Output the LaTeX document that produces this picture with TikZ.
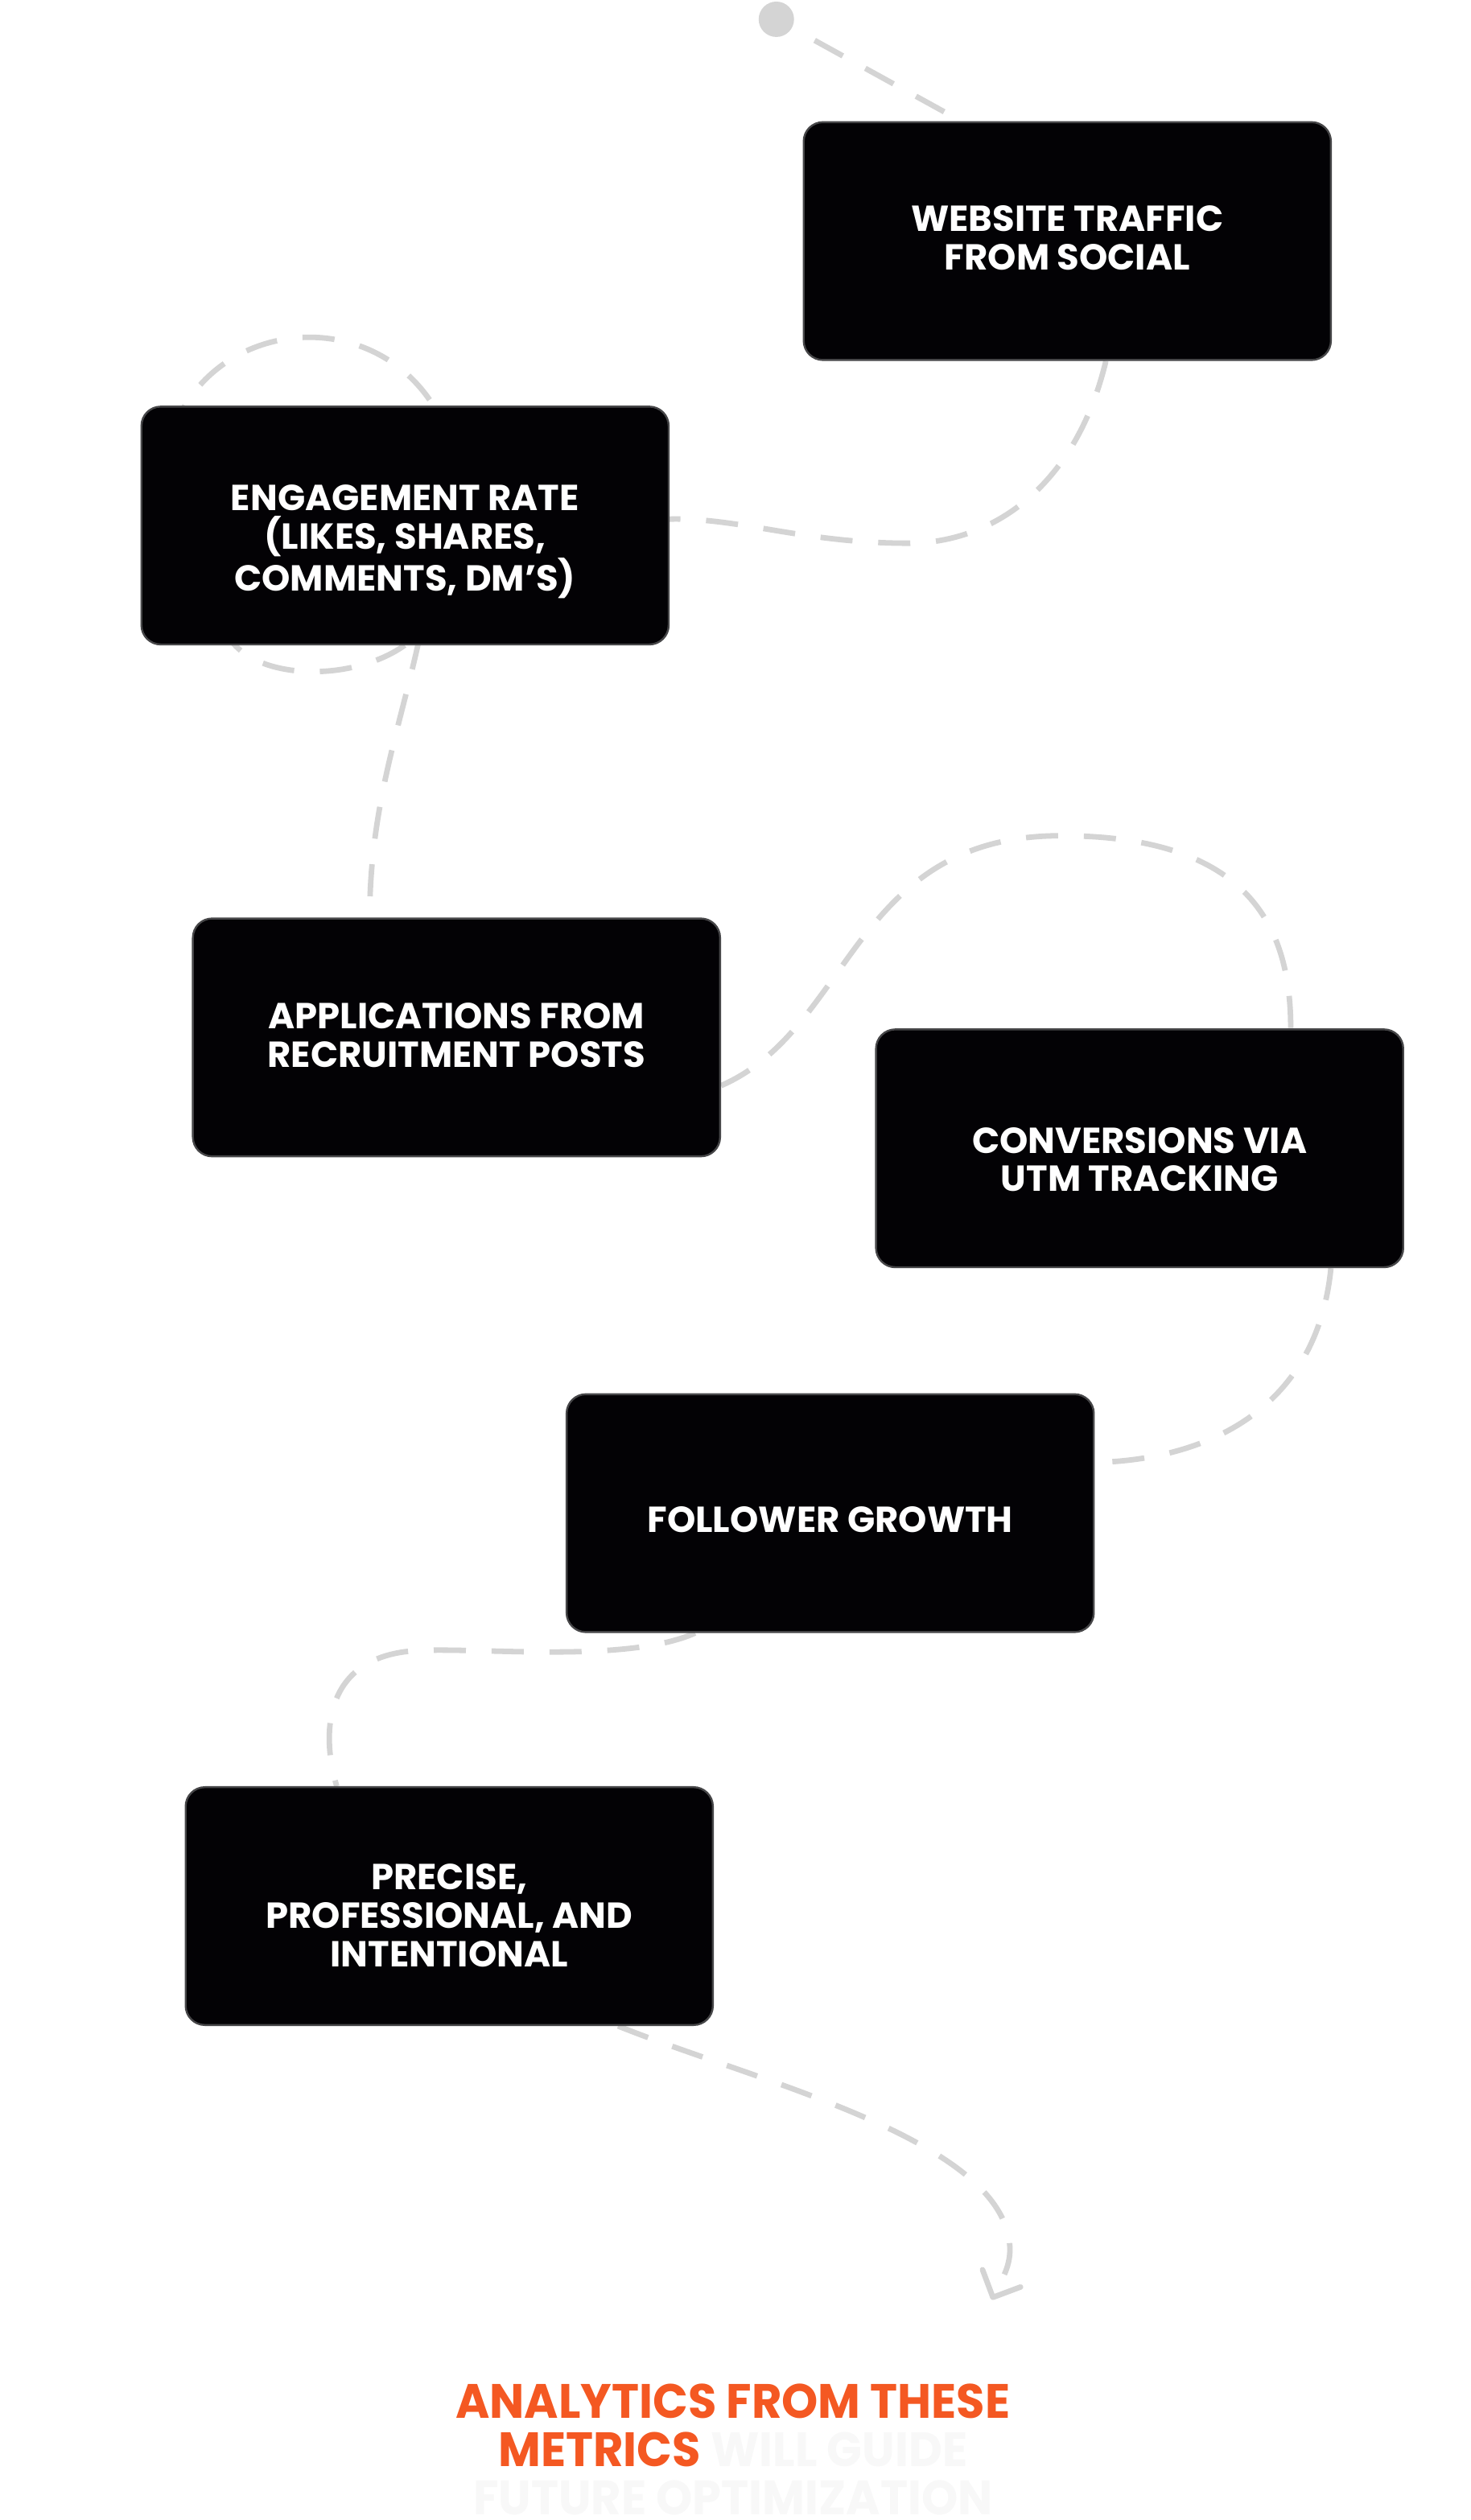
\documentclass[tikz,border=0pt]{standalone}
\usepackage{fontspec}
\setmainfont{Poppins}
\newfontfamily\cardfont{Poppins}
\newfontfamily\headfont[FakeStretch=0.96]{Poppins}
\usetikzlibrary{arrows.meta,backgrounds}

\begin{document}
\begin{tikzpicture}[x=1pt,y=-1pt,
  card/.style={draw=cardEdge,line width=1.2pt,fill=cardFill,rounded corners=12pt,
    minimum width=328pt,minimum height=148pt,inner sep=0pt},
  cardtext/.style={inner sep=0pt,align=center,text=white,
    font=\cardfont\bfseries\fontsize{22.5}{24}\selectfont},
  track/.style={draw=trackColor,line width=3.4pt,dash pattern=on 20pt off 16pt}]
\definecolor{cardFill}{RGB}{3,2,5}
\definecolor{cardEdge}{RGB}{70,70,72}
\definecolor{trackColor}{RGB}{212,212,212}
\definecolor{headColor}{RGB}{244,88,34}
\definecolor{ghostColor}{RGB}{248,248,248}

\node[card] (web) at (664,150) {};
\node[card] (engage) at (252,327) {};
\node[card] (apps) at (284,645.5) {};
\node[card] (conv) at (709,714.5) {};
\node[card] (follow) at (516.5,941.5) {};
\node[card] (precise) at (279.5,1186) {};

\node[cardtext] (webText) at ([yshift=2pt]web.center) {WEBSITE TRAFFIC\\FROM SOCIAL};
\node[cardtext] (engageText) at ([yshift=-10pt]engage.center) {ENGAGEMENT RATE\\(LIKES, SHARES,\\COMMENTS, DM’S)};
\node[cardtext] (appsText) at ([yshift=1.5pt]apps.center) {APPLICATIONS FROM\\RECRUITMENT POSTS};
\node[cardtext] (convText) at ([yshift=-7pt]conv.center) {CONVERSIONS VIA\\UTM TRACKING};
\node[cardtext] (followText) at ([yshift=-4pt]follow.center) {FOLLOWER GROWTH};
\node[cardtext] (preciseText) at ([yshift=-6pt]precise.center) {PRECISE,\\PROFESSIONAL, AND\\INTENTIONAL};

\node[circle,fill=trackColor,minimum size=22pt,inner sep=0pt] (start) at (483,12) {};
\coordinate (tip) at (617,1431);

\node[anchor=north,inner sep=0pt,align=center,text=headColor,
  font=\headfont\bfseries\fontsize{30}{30}\selectfont] (head) at (456,1483)
  {ANALYTICS FROM THESE\\METRICS {\color{ghostColor}WILL GUIDE}\\{\color{ghostColor}FUTURE OPTIMIZATION}};

\begin{pgfonlayer}{background}
\path[fill=white] (0,0) rectangle (915,1568);

\draw[track,dash phase=20pt] (start) -- ([xshift=-66pt]web.north);

\draw[track] ([xshift=24pt]web.south) .. controls (670,300) and (620,338) .. (565,338)
  .. controls (500,338) and (460,322) .. ([yshift=4pt]engage.east)
  -- (140,392) .. controls (155,428) and (235,425) .. (262,392)
  -- (275,262) .. controls (240,190) and (140,195) .. (110,262)
  -- (262,392) .. controls (250,450) and (230,500) .. ([xshift=-54pt]apps.north);

\draw[track] ([yshift=-30pt]apps.east) .. controls (530,640) and (530,520) .. (660,520)
  .. controls (780,520) and (803,580) .. ([xshift=94pt]conv.north);

\draw[track] ([xshift=119pt]conv.south) .. controls (820,870) and (760,908) .. ([yshift=31.5pt]follow.east);

\draw[track] ([xshift=-84pt]follow.south) .. controls (390,1035) and (300,1025) .. (260,1027)
  .. controls (200,1030) and (200,1080) .. ([xshift=-70pt]precise.north);

\draw[track,-{Straight Barb[length=13pt,width=26pt,round]}] ([xshift=105pt]precise.south)
  .. controls (470,1295) and (620,1330) .. (628,1395)
  .. controls (630,1410) and (622,1420) .. (tip);
\end{pgfonlayer}
\end{tikzpicture}
\end{document}
